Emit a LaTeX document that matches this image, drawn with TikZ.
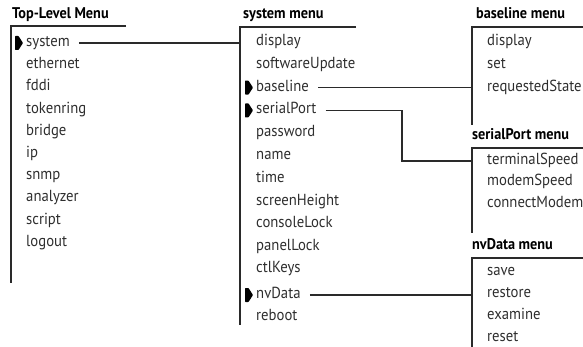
\documentclass[tikz,border=0pt]{standalone}
\usepackage{fontspec}
\setmainfont{PT Sans}[FakeStretch=0.92]
\definecolor{txtgray}{HTML}{2E2E2E}
\definecolor{linegray}{HTML}{2A2A2A}
\begin{document}
\begin{tikzpicture}[x=1pt,y=-1pt,
  item/.style={anchor=west,inner sep=0pt,text height=10pt,text depth=3pt,
    font=\fontsize{16}{18}\selectfont,text=txtgray},
  ttl/.style={anchor=west,inner sep=0pt,text height=11pt,text depth=3pt,
    font=\bfseries\fontsize{15.5}{18}\selectfont,text=black},
  rule/.style={draw=linegray,line width=1.2pt},
  conn/.style={draw=linegray,line width=1.2pt},
  mk/.pic={\fill[black,rounded corners=0.6pt] (-4,-7) -- (-0.5,-7) -- (4,0) -- (-0.5,7) -- (-4,7) -- cycle;}]
\useasboundingbox (0,0) rectangle (583,347);

% ---------------- Top-Level Menu
\node[ttl] (t0) at (12,15) {Top-Level Menu};
\coordinate (tcorner) at (11,26);
\draw[rule] (126,26) -- (tcorner) -- (11,283);
\node[item] (t1) at (26,43) {system};
\node[item] (t2) at (26,65.2) {ethernet};
\node[item] (t3) at (26,87.4) {fddi};
\node[item] (t4) at (26,109.6) {tokenring};
\node[item] (t5) at (26,131.8) {bridge};
\node[item] (t6) at (26,154) {ip};
\node[item] (t7) at (26,176.2) {snmp};
\node[item] (t8) at (26,198.4) {analyzer};
\node[item] (t9) at (26,220.6) {script};
\node[item] (t10) at (26,242.8) {logout};
\pic at ([xshift=-7pt]t1.west) {mk};

% ---------------- system menu
\node[ttl] (s0) at (243,15) {system menu};
\coordinate (scorner) at (240,27);
\draw[rule] (356,27) -- (scorner) -- (240,325);
\node[item] (s1) at (256,42) {display};
\node[item] (s2) at (256,64.8) {softwareUpdate};
\node[item] (s3) at (256,87.6) {baseline};
\node[item] (s4) at (256,110.4) {serialPort};
\node[item] (s5) at (256,133.2) {password};
\node[item] (s6) at (256,156) {name};
\node[item] (s7) at (256,178.8) {time};
\node[item] (s8) at (256,201.6) {screenHeight};
\node[item] (s9) at (256,224.4) {consoleLock};
\node[item] (s10) at (256,247.2) {panelLock};
\node[item] (s11) at (256,269) {ctlKeys};
\node[item] (s12) at (256,295) {nvData};
\node[item] (s13) at (256,317) {reboot};
\pic at ([xshift=-7pt]s3.west) {mk};
\pic at ([xshift=-7pt]s4.west) {mk};
\pic at ([xshift=-7pt]s12.west) {mk};

% ---------------- baseline menu
\node[ttl] (b0) at (476,15) {baseline menu};
\coordinate (bcorner) at (472,27);
\draw[rule] (590,27) -- (bcorner) -- (472,125);
\node[item] (b1) at (487,42) {display};
\node[item] (b2) at (487,65) {set};
\node[item] (b3) at (487,87.6) {requestedState};

% ---------------- serialPort menu
\node[ttl] (p0) at (472,136) {serialPort menu};
\coordinate (pcorner) at (472,148);
\draw[rule] (590,148) -- (pcorner) -- (472,233);
\node[item] (p1) at (487,161) {terminalSpeed};
\node[item] (p2) at (487,182.5) {modemSpeed};
\node[item] (p3) at (487,204) {connectModem};

% ---------------- nvData menu
\node[ttl] (n0) at (472,246) {nvData menu};
\coordinate (ncorner) at (472,258);
\draw[rule] (590,258) -- (ncorner) -- (472,350);
\node[item] (n1) at (487,272) {save};
\node[item] (n2) at (487,294) {restore};
\node[item] (n3) at (487,316) {examine};
\node[item] (n4) at (487,338) {reset};

% ---------------- connectors
\draw[conn] ([xshift=9pt]t1.east) -- (t1.east -| scorner);
\draw[conn] ([xshift=9pt]s3.east) -- (s3.east -| bcorner);
\coordinate (pbend) at (402,0);
\draw[conn] ([xshift=9pt]s4.east) -- (s4.east -| pbend) |- (p1.west -| pcorner);
\draw[conn] ([xshift=9pt]s12.east) -- (s12.east -| ncorner);
\end{tikzpicture}
\end{document}
